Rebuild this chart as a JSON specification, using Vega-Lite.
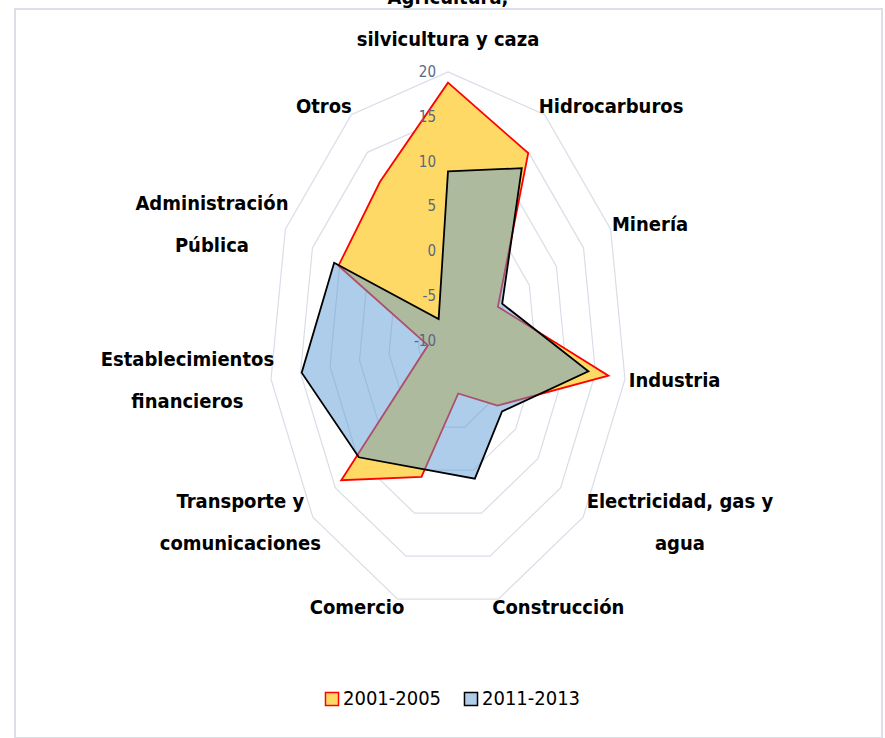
{
  "$schema": "https://vega.github.io/schema/vega-lite/v6.json",
  "width": 867,
  "height": 729,
  "autosize": {"type": "none"},
  "padding": {"left": 15, "top": 9, "right": 3, "bottom": 0},
  "background": "white",
  "config": {"view": {"stroke": "#DCDFE8", "strokeWidth": 2}, "font": "'Liberation Sans Narrow', 'DejaVu Sans Condensed', 'Roboto Condensed', Roboto, sans-serif"},
  "datasets": {
    "cats": [
      {"idx": 0, "lines": ["Agricultura,", "silvicultura y caza"]},
      {"idx": 1, "lines": ["Hidrocarburos"]},
      {"idx": 2, "lines": ["Minería"]},
      {"idx": 3, "lines": ["Industria"]},
      {"idx": 4, "lines": ["Electricidad, gas y", "agua"]},
      {"idx": 5, "lines": ["Construcción"]},
      {"idx": 6, "lines": ["Comercio"]},
      {"idx": 7, "lines": ["Transporte y", "comunicaciones"]},
      {"idx": 8, "lines": ["Establecimientos", "financieros"]},
      {"idx": 9, "lines": ["Administración", "Pública"]},
      {"idx": 10, "lines": ["Otros"]}
    ],
    "valores": [
      {"sector": "Agricultura, silvicultura y caza", "idx": 0, "periodo": "2001-2005", "valor": 18.8},
      {"sector": "Hidrocarburos", "idx": 1, "periodo": "2001-2005", "valor": 14.9},
      {"sector": "Minería", "idx": 2, "periodo": "2001-2005", "valor": -0.8},
      {"sector": "Industria", "idx": 3, "periodo": "2001-2005", "valor": 17.2},
      {"sector": "Electricidad, gas y agua", "idx": 4, "periodo": "2001-2005", "valor": 1.0},
      {"sector": "Construcción", "idx": 5, "periodo": "2001-2005", "valor": -3.9},
      {"sector": "Comercio", "idx": 6, "periodo": "2001-2005", "valor": 5.8},
      {"sector": "Transporte y comunicaciones", "idx": 7, "periodo": "2001-2005", "valor": 13.7},
      {"sector": "Establecimientos financieros", "idx": 8, "periodo": "2001-2005", "valor": -6.6},
      {"sector": "Administración Pública", "idx": 9, "periodo": "2001-2005", "valor": 10.2},
      {"sector": "Otros", "idx": 10, "periodo": "2001-2005", "valor": 11.1},
      {"sector": "Agricultura, silvicultura y caza", "idx": 0, "periodo": "2011-2013", "valor": 8.9},
      {"sector": "Hidrocarburos", "idx": 1, "periodo": "2011-2013", "valor": 12.9},
      {"sector": "Minería", "idx": 2, "periodo": "2011-2013", "valor": 0.0},
      {"sector": "Industria", "idx": 3, "periodo": "2011-2013", "valor": 13.8},
      {"sector": "Electricidad, gas y agua", "idx": 4, "periodo": "2011-2013", "valor": 2.0},
      {"sector": "Construcción", "idx": 5, "periodo": "2011-2013", "valor": 6.0},
      {"sector": "Comercio", "idx": 6, "periodo": "2011-2013", "valor": 4.9},
      {"sector": "Transporte y comunicaciones", "idx": 7, "periodo": "2011-2013", "valor": 9.8},
      {"sector": "Establecimientos financieros", "idx": 8, "periodo": "2011-2013", "valor": 14.8},
      {"sector": "Administración Pública", "idx": 9, "periodo": "2011-2013", "valor": 11.0},
      {"sector": "Otros", "idx": 10, "periodo": "2011-2013", "valor": -7.1}
    ],
    "niveles": [
      {"nivel": "-10", "v": -10},
      {"nivel": "-5", "v": -5},
      {"nivel": "0", "v": 0},
      {"nivel": "5", "v": 5},
      {"nivel": "10", "v": 10},
      {"nivel": "15", "v": 15},
      {"nivel": "20", "v": 20}
    ]
  },
  "layer": [
    {
      "data": {"name": "cats"},
      "transform": [
        {"calculate": "[-5, 0, 5, 10, 15, 20]", "as": "anillo"},
        {"flatten": ["anillo"]},
        {"calculate": "2 * PI * datum.idx / 11", "as": "ang"},
        {"calculate": "(datum.anillo + 10) * sin(datum.ang)", "as": "x"},
        {"calculate": "(datum.anillo + 10) * cos(datum.ang)", "as": "y"}
      ],
      "mark": {"type": "line", "interpolate": "linear-closed", "stroke": "#D9DDE7", "strokeWidth": 1.2},
      "encoding": {
        "x": {"field": "x", "type": "quantitative", "scale": {"domain": [-72.65, 72.82], "nice": false, "zero": false}, "axis": null},
        "y": {"field": "y", "type": "quantitative", "scale": {"domain": [-44.26, 37.01], "nice": false, "zero": false}, "axis": null},
        "detail": {"field": "anillo", "type": "nominal"},
        "order": {"field": "idx", "type": "quantitative"}
      }
    },
    {
      "data": {"name": "valores"},
      "transform": [
        {"calculate": "2 * PI * datum.idx / 11", "as": "ang"},
        {"calculate": "(datum.valor + 10) * sin(datum.ang)", "as": "x"},
        {"calculate": "(datum.valor + 10) * cos(datum.ang)", "as": "y"}
      ],
      "mark": {"type": "line", "interpolate": "linear-closed", "strokeWidth": 1.8, "strokeJoin": "miter"},
      "encoding": {
        "x": {"field": "x", "type": "quantitative", "scale": {"domain": [-72.65, 72.82], "nice": false, "zero": false}, "axis": null},
        "y": {"field": "y", "type": "quantitative", "scale": {"domain": [-44.26, 37.01], "nice": false, "zero": false}, "axis": null},
        "order": {"field": "idx", "type": "quantitative"},
        "fill": {
          "field": "periodo", "type": "nominal",
          "scale": {"domain": ["2001-2005", "2011-2013"], "range": ["#FFD966", "rgba(91,155,213,0.5)"]},
          "legend": {"orient": "none", "legendX": 307, "legendY": 680, "direction": "horizontal", "title": null, "padding": 0,
            "symbolType": "square", "symbolSize": 170, "symbolStrokeWidth": 1.5, "labelFontSize": 20,
            "labelColor": "#000000", "columnPadding": 19, "labelOffset": 1}
        },
        "stroke": {
          "field": "periodo", "type": "nominal",
          "scale": {"domain": ["2001-2005", "2011-2013"], "range": ["#FF0000", "#000000"]},
          "legend": {"orient": "none", "legendX": 307, "legendY": 680, "direction": "horizontal", "title": null, "padding": 0,
            "symbolType": "square", "symbolSize": 170, "symbolStrokeWidth": 1.5, "labelFontSize": 20,
            "labelColor": "#000000", "columnPadding": 19, "labelOffset": 1}
        }
      }
    },
    {
      "data": {"name": "niveles"},
      "transform": [
        {"calculate": "0", "as": "x"},
        {"calculate": "datum.v + 10", "as": "y"}
      ],
      "mark": {"type": "text", "align": "right", "baseline": "middle", "dx": -12, "fontSize": 15, "color": "#5A6780"},
      "encoding": {
        "x": {"field": "x", "type": "quantitative", "scale": {"domain": [-72.65, 72.82], "nice": false, "zero": false}, "axis": null},
        "y": {"field": "y", "type": "quantitative", "scale": {"domain": [-44.26, 37.01], "nice": false, "zero": false}, "axis": null},
        "text": {"field": "nivel", "type": "nominal"}
      }
    },
    {
      "data": {"name": "cats"},
      "transform": [
        {"calculate": "2 * PI * datum.idx / 11", "as": "ang"},
        {"calculate": "sin(datum.ang)", "as": "s"},
        {"calculate": "cos(datum.ang)", "as": "c"},
        {"calculate": "length(datum.lines)", "as": "n"},
        {"calculate": "max(length(datum.lines[0]), datum.n > 1 ? length(datum.lines[1]) : 0)", "as": "nc"},
        {"calculate": "31 * datum.s + (datum.s > 0.1 ? 1 : (datum.s < -0.1 ? -1 : 0)) * datum.nc * 0.815", "as": "x"},
        {"calculate": "31 * datum.c + (datum.n - 1) * 2.34 + (datum.c > 0.97 ? datum.n * 2.45 : 0)", "as": "y"}
      ],
      "mark": {"type": "text", "align": "center", "baseline": "middle", "fontSize": 20, "fontWeight": "bold", "lineHeight": 42, "color": "#000000"},
      "encoding": {
        "x": {"field": "x", "type": "quantitative", "scale": {"domain": [-72.65, 72.82], "nice": false, "zero": false}, "axis": null},
        "y": {"field": "y", "type": "quantitative", "scale": {"domain": [-44.26, 37.01], "nice": false, "zero": false}, "axis": null},
        "text": {"field": "lines"}
      }
    }
  ]
}
